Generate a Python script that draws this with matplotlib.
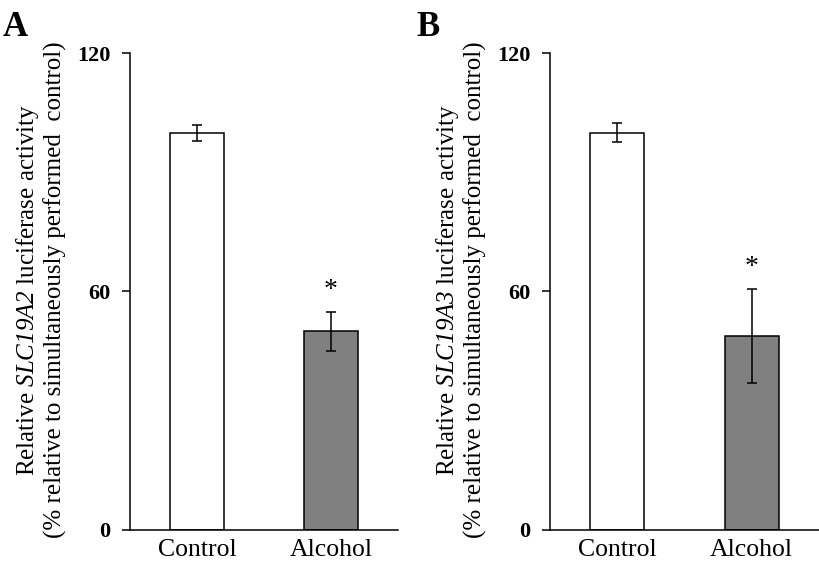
import numpy as np
from matplotlib import pyplot as plt

# Data
groups = ['Control', 'Alcohol']
slc19a2_mean = [100.0, 49.9]
slc19a2_err = [2.0, 4.8]
slc19a3_mean = [100.0, 48.7]
slc19a3_err = [2.4, 11.8]
genes = ['SLC19A2', 'SLC19A3']
panel_letters = ['A', 'B']
yticks = [0, 60, 120]

plt.rcParams['font.family'] = 'Liberation Serif'
plt.rcParams['mathtext.fontset'] = 'custom'
plt.rcParams['mathtext.rm'] = 'Liberation Serif'
plt.rcParams['mathtext.it'] = 'Liberation Serif:italic'
plt.rcParams['mathtext.sf'] = 'Liberation Serif:italic'

fig = plt.figure(figsize=(8.19, 5.69), dpi=100)
ax_a = fig.add_axes([130 / 819, 39.5 / 569, 268 / 819, 476.2 / 569])
ax_b = fig.add_axes([550 / 819, 39.5 / 569, 269 / 819, 476.2 / 569])

panels = [(ax_a, slc19a2_mean, slc19a2_err), (ax_b, slc19a3_mean, slc19a3_err)]
x = np.arange(len(groups))

for i, (ax, mean, err) in enumerate(panels):
    ax.bar(x, mean, width=0.4, color=['white', '#808080'], edgecolor='black',
           linewidth=1.1, zorder=2)
    ax.errorbar(x, mean, yerr=err, fmt='none', ecolor='black', elinewidth=1.1,
                capsize=3.8, capthick=1.1, zorder=3)
    # significance mark on the alcohol bar
    ax.text(x[1], mean[1] + err[1] + 5.5, '*', ha='center', va='center',
            fontsize=20)
    ax.set_xlim(-0.5, 1.5)
    ax.set_ylim(0, 120)
    ax.set_yticks(yticks)
    ax.set_xticks(x)
    ax.set_xticklabels(groups, fontsize=18.5)
    ax.tick_params(axis='x', length=0, pad=7)
    ax.tick_params(axis='y', length=6, width=1.1, pad=8, direction='out')
    for lab in ax.get_yticklabels():
        lab.set_fontweight('bold')
        lab.set_fontsize(16)
    for side in ['top', 'right']:
        ax.spines[side].set_visible(False)
    for side in ['left', 'bottom']:
        ax.spines[side].set_linewidth(1.1)
    ax.set_ylabel('Relative $\\mathsf{' + genes[i] + '}$ luciferase activity\n'
                  '(% relative to simultaneously performed  control)',
                  fontsize=18, linespacing=1.15)
    ax.yaxis.set_label_coords(-0.235, 0.503)

fig.text(3 / 819, 1 - 44 / 569, panel_letters[0], fontsize=25, fontweight='bold',
         va='bottom')
fig.text(416 / 819, 1 - 44 / 569, panel_letters[1], fontsize=25, fontweight='bold',
         va='bottom')

plt.savefig('out.png', dpi=100)
